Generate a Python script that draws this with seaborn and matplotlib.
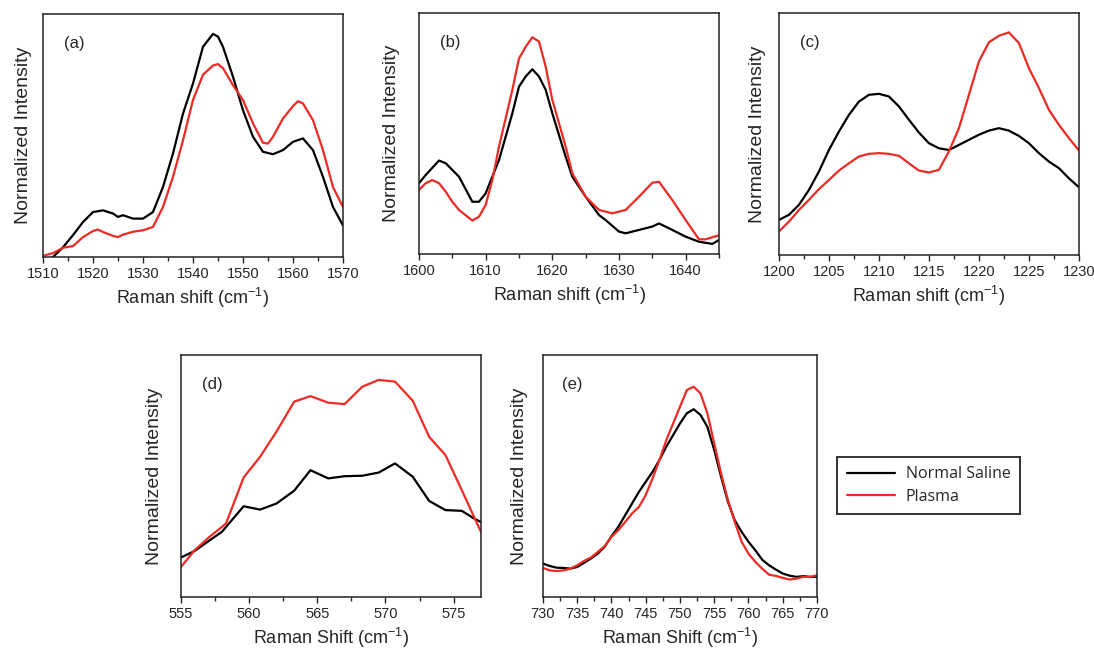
import numpy as np
import pandas as pd
import matplotlib
matplotlib.use("Agg")
import matplotlib.pyplot as plt
from matplotlib.ticker import MultipleLocator
import seaborn as sns

# Spectra (intensity as fraction of the axis height)
a_x_ns = [1510, 1512, 1514, 1516, 1518, 1520, 1522, 1524, 1525, 1526, 1528, 1530, 1532, 1534, 1536,
          1538, 1540, 1542, 1544, 1545, 1546, 1548, 1550, 1552, 1554, 1556, 1558, 1560, 1562,
          1564, 1566, 1568, 1570]
a_ns = [-0.02, 0.0, 0.04, 0.09, 0.144, 0.185, 0.192, 0.179, 0.165, 0.172, 0.158, 0.158, 0.185, 0.288,
        0.426, 0.59, 0.714, 0.865, 0.918, 0.907, 0.865, 0.742, 0.604, 0.495, 0.433, 0.423, 0.44,
        0.474, 0.488, 0.44, 0.33, 0.206, 0.13]
a_x_pl = [1510, 1512, 1514, 1516, 1518, 1520, 1521, 1522, 1524, 1525, 1526, 1528, 1530, 1532, 1534,
          1536, 1538, 1540, 1542, 1544, 1545, 1546, 1548, 1550, 1552, 1554, 1555, 1556, 1558,
          1560, 1561, 1562, 1564, 1566, 1568, 1570]
a_pl = [0.005, 0.016, 0.038, 0.045, 0.082, 0.107, 0.113, 0.103, 0.087, 0.082, 0.092, 0.104, 0.11,
        0.124, 0.206, 0.33, 0.48, 0.646, 0.75, 0.788, 0.794, 0.777, 0.707, 0.646, 0.55, 0.47,
        0.467, 0.495, 0.57, 0.621, 0.641, 0.632, 0.563, 0.44, 0.288, 0.206]

b_x_ns = [1600, 1601, 1603, 1604, 1606, 1608, 1609, 1610, 1612, 1614, 1615, 1616, 1617, 1618, 1619,
          1620, 1622, 1623, 1625, 1627, 1628, 1630, 1631, 1633, 1635, 1636, 1638, 1640, 1642,
          1644, 1645]
b_ns = [0.294, 0.328, 0.388, 0.377, 0.321, 0.217, 0.217, 0.252, 0.39, 0.584, 0.695, 0.737, 0.767,
        0.737, 0.682, 0.584, 0.404, 0.321, 0.238, 0.162, 0.141, 0.093, 0.086, 0.1, 0.114, 0.127,
        0.1, 0.072, 0.051, 0.042, 0.058]
b_x_pl = [1600, 1601, 1602, 1603, 1604, 1605, 1606, 1608, 1609, 1610, 1611, 1612, 1614, 1615, 1616,
          1617, 1618, 1619, 1620, 1622, 1623, 1625, 1627, 1629, 1631, 1633, 1635, 1636, 1638,
          1640, 1642, 1643, 1645]
b_pl = [0.266, 0.294, 0.307, 0.294, 0.259, 0.217, 0.183, 0.139, 0.155, 0.204, 0.307, 0.446, 0.681,
        0.812, 0.86, 0.9, 0.882, 0.778, 0.64, 0.446, 0.335, 0.238, 0.183, 0.169, 0.183, 0.238,
        0.296, 0.3, 0.224, 0.141, 0.061, 0.061, 0.078]

c_x = list(range(1200, 1231))
c_ns = [0.145, 0.166, 0.207, 0.269, 0.345, 0.434, 0.51, 0.579, 0.634, 0.662, 0.666, 0.655, 0.614,
        0.559, 0.506, 0.462, 0.441, 0.434, 0.455, 0.476, 0.497, 0.514, 0.524, 0.514, 0.492,
        0.462, 0.421, 0.386, 0.359, 0.317, 0.28]
c_pl = [0.097, 0.138, 0.186, 0.228, 0.272, 0.31, 0.349, 0.379, 0.407, 0.418, 0.421, 0.418, 0.41,
        0.379, 0.349, 0.341, 0.352, 0.428, 0.524, 0.662, 0.8, 0.879, 0.906, 0.92, 0.876, 0.772,
        0.69, 0.6, 0.538, 0.483, 0.432]

d_x_ns = [555, 556, 557, 558, 559.6, 560.8, 562, 563.3, 564.5, 565.8, 567, 568.3, 569.5, 570.7,
          572, 573.2, 574.4, 575.6, 576.5, 577]
d_ns = [0.163, 0.19, 0.23, 0.269, 0.375, 0.361, 0.386, 0.439, 0.524, 0.49, 0.499, 0.501, 0.514,
        0.552, 0.497, 0.397, 0.359, 0.356, 0.324, 0.31]
d_x_pl = [555, 556, 557, 558.3, 559.6, 560.8, 562, 563.3, 564.5, 565.8, 567, 568.3, 569.5, 570.7,
          572, 573.2, 574.4, 575.6, 577]
d_pl = [0.124, 0.193, 0.244, 0.303, 0.494, 0.579, 0.683, 0.807, 0.83, 0.803, 0.797, 0.869, 0.897,
        0.89, 0.811, 0.662, 0.586, 0.441, 0.269]

e_x = list(range(730, 771))
e_ns = [0.138, 0.128, 0.121, 0.12, 0.117, 0.124, 0.141, 0.159, 0.179, 0.207, 0.251, 0.29, 0.338,
        0.386, 0.434, 0.476, 0.517, 0.566, 0.621, 0.669, 0.717, 0.759, 0.776, 0.752, 0.703,
        0.607, 0.497, 0.393, 0.317, 0.269, 0.228, 0.193, 0.154, 0.131, 0.113, 0.097, 0.088,
        0.083, 0.086, 0.083, 0.083]
e_pl = [0.12, 0.11, 0.107, 0.11, 0.117, 0.131, 0.149, 0.163, 0.186, 0.21, 0.248, 0.276, 0.31,
        0.345, 0.372, 0.421, 0.49, 0.566, 0.648, 0.717, 0.786, 0.855, 0.869, 0.841, 0.759,
        0.634, 0.51, 0.4, 0.31, 0.228, 0.179, 0.145, 0.117, 0.092, 0.087, 0.079, 0.072, 0.076,
        0.083, 0.083, 0.09]

series_names = ["Normal Saline", "Plasma"]
colors = {"Normal Saline": "#000000", "Plasma": "#ee2a24"}

sns.set_style("ticks")
plt.rcParams["font.family"] = ["Liberation Sans", "DejaVu Sans"]
plt.rcParams["mathtext.fontset"] = "custom"
plt.rcParams["mathtext.rm"] = "Liberation Sans"
plt.rcParams["mathtext.it"] = "Liberation Sans"
plt.rcParams["axes.linewidth"] = 1.1
plt.rcParams["axes.edgecolor"] = "#222222"


def make_frame(x_ns, y_ns, x_pl, y_pl):
    ns = pd.DataFrame({"shift": x_ns, "intensity": y_ns, "sample": series_names[0]})
    pl = pd.DataFrame({"shift": x_pl, "intensity": y_pl, "sample": series_names[1]})
    return pd.concat([ns, pl], ignore_index=True)


# label, data, x range, major/minor tick step, x title, ylabel pad, axes rect
panels = [
    ("(a)", make_frame(a_x_ns, a_ns, a_x_pl, a_pl), (1510, 1570), 10, 5, "Raman shift", 8,
     [0.0393, 0.6052, 0.2742, 0.3733]),
    ("(b)", make_frame(b_x_ns, b_ns, b_x_pl, b_pl), (1600, 1645), 10, 5, "Raman shift", 14,
     [0.3830, 0.6098, 0.2742, 0.3700]),
    ("(c)", make_frame(c_x, c_ns, c_x, c_pl), (1200, 1230), 5, 2.5, "Raman shift", 9.5,
     [0.7120, 0.6083, 0.2742, 0.3717]),
    ("(d)", make_frame(d_x_ns, d_ns, d_x_pl, d_pl), (555, 577), 5, 2.5, "Raman Shift", 13,
     [0.1654, 0.0830, 0.2742, 0.3717]),
    ("(e)", make_frame(e_x, e_ns, e_x, e_pl), (730, 770), 5, 2.5, "Raman Shift", 11,
     [0.4963, 0.0830, 0.2505, 0.3717]),
]

fig = plt.figure(figsize=(10.94, 6.51), dpi=100)

for label, df, xlim, major, minor, xname, ypad, rect in panels:
    ax = fig.add_axes(rect)
    sns.lineplot(data=df, x="shift", y="intensity", hue="sample", palette=colors,
                 estimator=None, sort=False, linewidth=1.6, legend=False, ax=ax)
    ax.set_xlim(*xlim)
    ax.set_ylim(0, 1)
    ax.xaxis.set_major_locator(MultipleLocator(major))
    ax.xaxis.set_minor_locator(MultipleLocator(minor))
    ax.tick_params(axis="x", which="major", direction="out", length=4, width=1, labelsize=10.5,
                   pad=3)
    ax.tick_params(axis="x", which="minor", direction="out", length=3, width=1)
    ax.set_yticks([])
    ax.set_xlabel(xname + " (cm$^{-1}$)", fontsize=13, labelpad=4)
    ax.set_ylabel("Normalized Intensity", fontsize=14, labelpad=ypad)
    ax.text(0.07, 0.88, label, transform=ax.transAxes, fontsize=12, ha="left", va="center")
    for side in ["top", "right", "left", "bottom"]:
        ax.spines[side].set_visible(True)

handles = [plt.Line2D([], [], color=colors[n], linewidth=1.6) for n in series_names]
leg = fig.legend(handles, series_names, loc="center left", bbox_to_anchor=(0.758, 0.254),
                 frameon=True, fancybox=False, edgecolor="black", handlelength=3.0,
                 borderpad=0.6, labelspacing=0.4, handletextpad=0.7,
                 prop={"family": "Open Sans", "size": 11.5})
leg.get_frame().set_linewidth(1.4)

fig.savefig("out.png", dpi=100)
